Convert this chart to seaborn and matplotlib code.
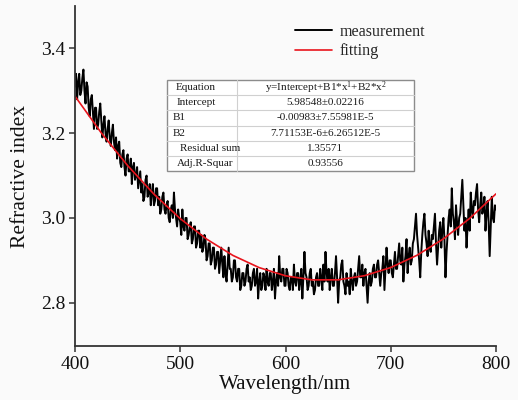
import numpy as np
import pandas as pd
import matplotlib
matplotlib.use("Agg")
import matplotlib.pyplot as plt
import seaborn as sns

# ---------------- data ----------------
wl_start, wl_step = 400, 1
measurement = [
    3.31, 3.34, 3.28, 3.32, 3.34, 3.29, 3.30, 3.33, 3.35, 3.30, 3.27, 3.32, 3.31, 3.26, 3.24, 3.28, 3.29, 3.25, 3.21, 3.26,
    3.26, 3.21, 3.22, 3.25, 3.27, 3.23, 3.19, 3.22, 3.24, 3.20, 3.18, 3.21, 3.23, 3.19, 3.17, 3.20, 3.22, 3.18, 3.16, 3.19,
    3.14, 3.17, 3.18, 3.13, 3.12, 3.15, 3.16, 3.12, 3.10, 3.14, 3.15, 3.11, 3.11, 3.14, 3.08, 3.12, 3.13, 3.09, 3.10, 3.12,
    3.07, 3.09, 3.11, 3.06, 3.08, 3.04, 3.05, 3.09, 3.10, 3.05, 3.06, 3.08, 3.03, 3.06, 3.08, 3.03, 3.04, 3.07, 3.07, 3.03,
    3.05, 3.01, 3.02, 3.05, 3.06, 3.02, 3.01, 3.03, 3.04, 3.00, 2.99, 3.02, 3.03, 3.00, 3.06, 3.02, 3.00, 2.98, 3.02, 3.00,
    2.99, 2.96, 3.02, 2.98, 2.97, 3.00, 3.00, 2.95, 2.96, 2.98, 2.99, 2.94, 2.95, 2.98, 2.98, 2.93, 2.94, 2.97, 2.97, 2.93,
    2.96, 2.92, 2.93, 2.96, 2.95, 2.90, 2.91, 2.94, 2.94, 2.89, 2.90, 2.93, 2.93, 2.88, 2.89, 2.92, 2.92, 2.87, 2.90, 2.93,
    2.89, 2.86, 2.91, 2.87, 2.85, 2.89, 2.93, 2.88, 2.88, 2.85, 2.86, 2.90, 2.90, 2.86, 2.85, 2.88, 2.88, 2.83, 2.84, 2.87,
    2.87, 2.84, 2.85, 2.88, 2.89, 2.85, 2.86, 2.83, 2.84, 2.87, 2.88, 2.84, 2.85, 2.88, 2.81, 2.85, 2.87, 2.83, 2.84, 2.87,
    2.86, 2.83, 2.88, 2.85, 2.84, 2.87, 2.87, 2.83, 2.85, 2.88, 2.81, 2.85, 2.87, 2.84, 2.91, 2.86, 2.85, 2.88, 2.88, 2.84,
    2.84, 2.88, 2.87, 2.84, 2.83, 2.86, 2.86, 2.83, 2.89, 2.85, 2.84, 2.87, 2.87, 2.83, 2.85, 2.88, 2.81, 2.86, 2.92, 2.87,
    2.86, 2.83, 2.84, 2.87, 2.88, 2.84, 2.85, 2.82, 2.83, 2.86, 2.87, 2.84, 2.84, 2.88, 2.86, 2.83, 2.89, 2.85, 2.92, 2.87,
    2.85, 2.88, 2.83, 2.86, 2.88, 2.84, 2.84, 2.87, 2.91, 2.86, 2.80, 2.85, 2.86, 2.89, 2.90, 2.85, 2.84, 2.82, 2.87, 2.84,
    2.85, 2.82, 2.88, 2.85, 2.83, 2.86, 2.87, 2.84, 2.85, 2.88, 2.91, 2.86, 2.86, 2.89, 2.84, 2.87, 2.88, 2.84, 2.80, 2.85,
    2.87, 2.84, 2.85, 2.88, 2.89, 2.86, 2.86, 2.89, 2.90, 2.87, 2.84, 2.87, 2.88, 2.91, 2.83, 2.88, 2.93, 2.89, 2.87, 2.90,
    2.90, 2.87, 2.86, 2.89, 2.92, 2.88, 2.88, 2.91, 2.94, 2.90, 2.89, 2.93, 2.85, 2.89, 2.91, 2.95, 2.87, 2.91, 2.93, 2.89,
    2.90, 2.94, 2.95, 2.98, 3.01, 2.96, 2.93, 2.90, 2.86, 2.92, 2.96, 2.99, 3.01, 2.96, 2.94, 2.91, 2.97, 2.93, 2.92, 2.96,
    2.95, 2.98, 3.01, 2.94, 2.89, 2.93, 2.97, 2.99, 2.93, 2.97, 3.00, 2.95, 2.86, 2.92, 2.96, 3.00, 3.02, 2.98, 3.07, 3.01,
    2.99, 2.95, 3.03, 2.99, 2.96, 3.00, 3.01, 3.05, 3.09, 3.03, 2.97, 3.00, 2.93, 2.98, 3.02, 2.97, 3.06, 3.02, 3.00, 3.04,
    3.03, 3.06, 3.08, 3.02, 2.99, 3.03, 3.06, 3.01, 3.02, 3.05, 2.97, 3.01, 3.04, 2.99, 2.91, 2.98, 3.05, 3.00, 2.99, 3.03,
    3.02,
]
wavelength = list(range(wl_start, wl_start + wl_step * len(measurement), wl_step))

fit_wavelength = [400, 425, 450, 475, 500, 525, 550, 575, 600,
                  625, 650, 675, 700, 725, 750, 775, 800]
fit_values = [3.2873, 3.2006, 3.1236, 3.0562, 2.9984, 2.9502, 2.9117, 2.8829, 2.8636,
              2.8540, 2.8541, 2.8638, 2.8831, 2.9121, 2.9507, 2.9990, 3.0569]

table_labels = ["Equation", "Intercept", "B1", "B2", "Residual sum", "Adj.R-Squar"]
table_values = [r"y=Intercept+B1*x$^{1}$+B2*x$^{2}$", "5.98548\u00b10.02216",
                "-0.00983\u00b17.55981E-5", "7.71153E-6\u00b16.26512E-5",
                "1.35571", "0.93556"]

x_ticks = [400, 500, 600, 700, 800]
y_ticks = [2.8, 3.0, 3.2, 3.4]

# ---------------- style ----------------
sns.set_theme(style="ticks")
bg = "#fafafa"
plt.rcParams["font.family"] = ["Liberation Serif", "DejaVu Serif"]
plt.rcParams["mathtext.fontset"] = "custom"
plt.rcParams["mathtext.rm"] = "Liberation Serif"
plt.rcParams["mathtext.it"] = "Liberation Serif"

W, H = 518, 400
fig = plt.figure(figsize=(W / 100, H / 100), dpi=100, facecolor=bg)
ax = fig.add_axes([75 / W, 1 - 346 / H, (496 - 75) / W, (346 - 6) / H])
ax.set_facecolor(bg)

df_meas = pd.DataFrame({"wl": wavelength, "n": measurement})
df_fit = pd.DataFrame({"wl": fit_wavelength, "n": fit_values})

sns.lineplot(data=df_meas, x="wl", y="n", ax=ax, color="black", lw=1.4,
             label="measurement")
sns.lineplot(data=df_fit, x="wl", y="n", ax=ax, color="#e8141c", lw=1.2,
             label="fitting")

ax.set_xlim(400, 800)
ax.set_ylim(2.698, 3.5)
ax.set_xticks(x_ticks)
ax.set_xticklabels([str(t) for t in x_ticks])
ax.set_yticks(y_ticks)
ax.set_yticklabels([f"{t:.1f}" for t in y_ticks])
ax.tick_params(axis="both", direction="out", length=4, width=1.1,
               color="#333333", labelsize=14, labelcolor="#111111", pad=3)
for s in ["top", "right"]:
    ax.spines[s].set_visible(False)
for s in ["left", "bottom"]:
    ax.spines[s].set_color("#333333")
    ax.spines[s].set_linewidth(1.3)

ax.set_xlabel("Wavelength/nm", fontsize=15, color="#111111", labelpad=2)
ax.set_ylabel("Refractive index", fontsize=15.5, color="#111111", labelpad=8)

leg = ax.legend(loc="upper left", bbox_to_anchor=(295 / W, 1 - 24 / H),
                bbox_transform=fig.transFigure, frameon=False, fontsize=11.6,
                borderpad=0, borderaxespad=0, handlelength=2.3,
                handletextpad=0.45, labelspacing=0.2)

# ---------------- table (figure pixel coords) ----------------
def fx(px):
    return px / W

def fy(py):
    return 1 - py / H

tl, tr, tt, tb = 167, 414, 80, 171
cdiv = 237
rows = len(table_labels)
rh = (tb - tt) / rows
fig.patches.append(plt.Rectangle((fx(tl), fy(tb)), fx(tr) - fx(tl), fy(tt) - fy(tb),
                                 transform=fig.transFigure, facecolor="white",
                                 edgecolor="#8c8c8c", lw=1.0, zorder=5))
for i in range(1, rows):
    yy = tt + i * rh
    fig.add_artist(plt.Line2D([fx(tl), fx(tr)], [fy(yy), fy(yy)],
                              transform=fig.transFigure, color="#d0d0d0", lw=0.8, zorder=6))
fig.add_artist(plt.Line2D([fx(cdiv), fx(cdiv)], [fy(tt), fy(tb)],
                          transform=fig.transFigure, color="#d0d0d0", lw=0.8, zorder=6))
label_x = [176, 177, 173, 173, 180, 177]
for i, (lab, val) in enumerate(zip(table_labels, table_values)):
    yc = tt + (i + 0.5) * rh
    fig.text(fx(label_x[i]), fy(yc), lab, fontsize=8, ha="left", va="center",
             color="#1a1a1a", zorder=7)
    fig.text(fx((cdiv + tr) / 2), fy(yc), val, fontsize=8, ha="center", va="center",
             color="#1a1a1a", zorder=7)

fig.savefig("out.png", dpi=100, facecolor=bg)
